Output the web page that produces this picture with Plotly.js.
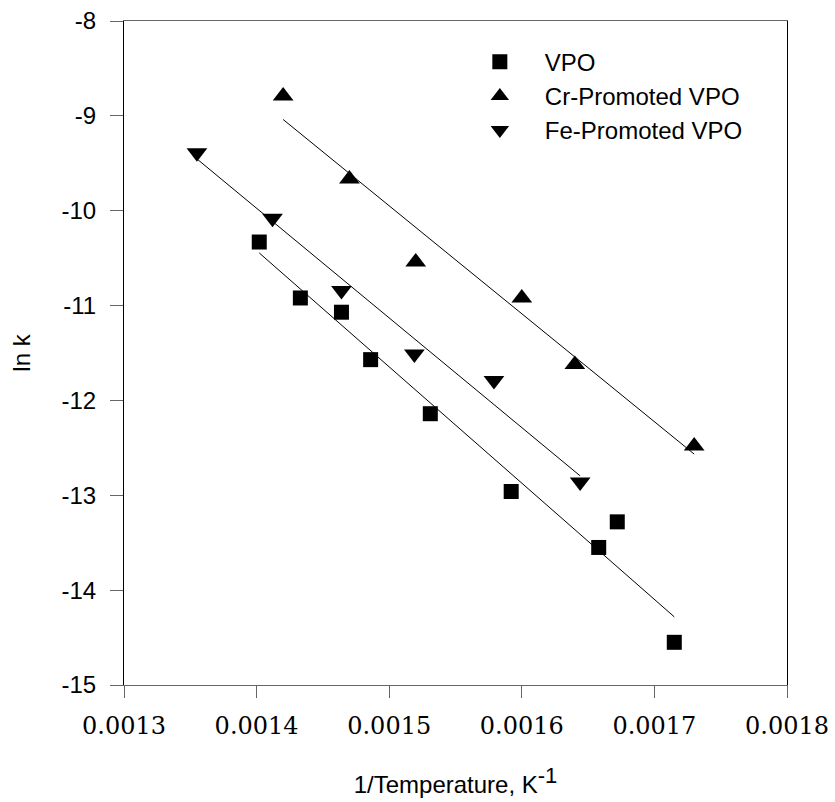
<!DOCTYPE html>
<html>
<head>
<meta charset="utf-8">
<script src="https://cdn.plot.ly/plotly-3.0.1.min.js"></script>
<style>html,body{margin:0;padding:0;background:#fff;}#chart{width:835px;height:802px;}</style>
</head>
<body>
<div id="chart"></div>
<script>
// Data
const vpoX = [0.001402, 0.001433, 0.001464, 0.001486, 0.001531, 0.001592, 0.001658, 0.001672, 0.001715];
const vpoY = [-10.33, -10.92, -11.07, -11.57, -12.14, -12.96, -13.55, -13.28, -14.55];
const crX = [0.00142, 0.00147, 0.00152, 0.00160, 0.00164, 0.00173];
const crY = [-8.79, -9.665, -10.54, -10.92, -11.62, -12.48];
const feX = [0.001355, 0.001412, 0.001464, 0.001519, 0.001579, 0.001644];
const feY = [-9.39, -10.08, -10.84, -11.51, -11.79, -12.86];
const seriesNames = ['VPO', 'Cr-Promoted VPO', 'Fe-Promoted VPO'];
const xTickVals = [0.0013, 0.0014, 0.0015, 0.0016, 0.0017, 0.0018];
const xTickText = ['0.0013', '0.0014', '0.0015', '0.0016', '0.0017', '0.0018'];
const yTickVals = [-15, -14, -13, -12, -11, -10, -9, -8];
const yTickText = ['-15', '-14', '-13', '-12', '-11', '-10', '-9', '-8'];

function fitLine(xs, ys) {
  const n = xs.length;
  const mx = xs.reduce((a, b) => a + b, 0) / n;
  const my = ys.reduce((a, b) => a + b, 0) / n;
  let sxy = 0, sxx = 0;
  for (let i = 0; i < n; i++) { sxy += (xs[i] - mx) * (ys[i] - my); sxx += (xs[i] - mx) ** 2; }
  const m = sxy / sxx, b = my - m * mx;
  const x0 = Math.min(...xs), x1 = Math.max(...xs);
  return { x: [x0, x1], y: [m * x0 + b, m * x1 + b] };
}

const symbols = ['square', 'triangle-up', 'triangle-down'];
const sizes = [15, 18, 18];
const dataSets = [[vpoX, vpoY], [crX, crY], [feX, feY]];
const traces = [];
dataSets.forEach((d, i) => {
  const f = fitLine(d[0], d[1]);
  traces.push({ x: f.x, y: f.y, mode: 'lines', line: { color: 'black', width: 1 }, showlegend: false, hoverinfo: 'skip' });
});
dataSets.forEach((d, i) => {
  traces.push({ x: d[0], y: d[1], mode: 'markers', name: seriesNames[i],
    marker: { symbol: symbols[i], size: sizes[i], color: 'black' } });
});

const layout = {
  width: 835, height: 802,
  margin: { l: 124, r: 48, t: 21, b: 117 },
  paper_bgcolor: 'white', plot_bgcolor: 'white',
  showlegend: true,
  legend: { x: 0.499, y: 0.972, xanchor: 'left', yanchor: 'top', bgcolor: 'rgba(0,0,0,0)',
    itemwidth: 80, font: { family: 'Liberation Sans, Arial, sans-serif', size: 24, color: 'black' } },
  xaxis: {
    range: [0.0013, 0.0018], tickvals: xTickVals, ticktext: xTickText,
    showgrid: false, zeroline: false, showline: true, mirror: true, linecolor: '#666', linewidth: 1,
    ticks: 'outside', ticklen: 12, tickcolor: '#666', tickwidth: 1, ticklabelstandoff: 7,
    tickfont: { family: 'DejaVu Serif, serif', size: 24, color: 'black' },
    title: { text: '1/Temperature, K<sup><span style="font-size:22px">-1</span></sup>', standoff: 37,
      font: { family: 'Liberation Sans, Arial, sans-serif', size: 24, color: 'black' } }
  },
  yaxis: {
    range: [-15, -8], tickvals: yTickVals, ticktext: yTickText,
    showgrid: false, zeroline: false, showline: true, mirror: true, linecolor: 'black', linewidth: 1,
    ticks: 'outside', ticklen: 13, tickcolor: '#666', tickwidth: 1, ticklabelstandoff: 9,
    tickfont: { family: 'Liberation Sans, Arial, sans-serif', size: 24, color: 'black' },
    title: { text: 'ln k', standoff: 24,
      font: { family: 'Liberation Sans, Arial, sans-serif', size: 24, color: 'black' } }
  }
};

Plotly.newPlot('chart', traces, layout, { displayModeBar: false, staticPlot: true });
</script>
</body>
</html>
